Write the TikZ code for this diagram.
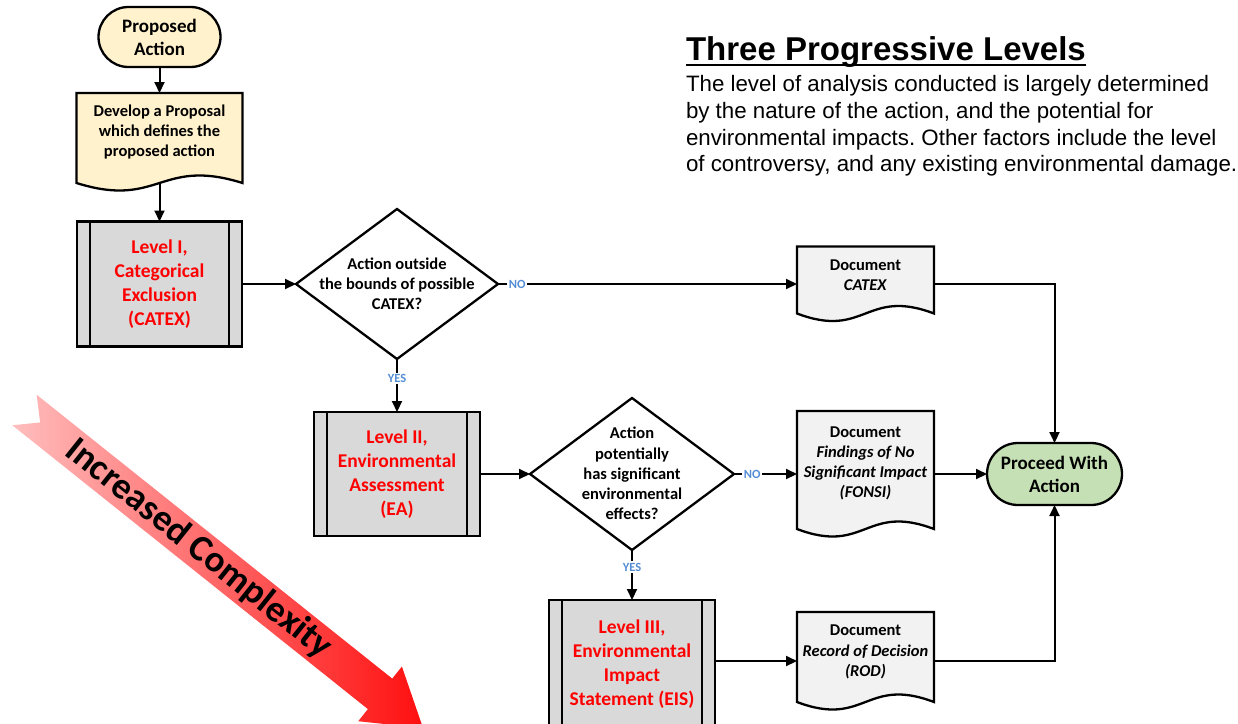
\documentclass[tikz,border=0pt]{standalone}
\usepackage{fontspec}
\setmainfont{Carlito}
\newfontfamily\arialf{Liberation Sans}
\usetikzlibrary{shapes.geometric,shapes.misc,arrows.meta,calc}
\definecolor{yel}{RGB}{255,242,204}
\definecolor{grayf}{RGB}{217,217,217}
\definecolor{docf}{RGB}{242,242,242}
\definecolor{grn}{RGB}{197,224,180}
\definecolor{lblue}{RGB}{84,141,212}
\definecolor{pinkl}{RGB}{255,190,190}
\definecolor{redd}{RGB}{255,15,15}
\newcommand\docdraw[2]{%
  \draw[shapeline, fill=#2] (#1.north west) -- (#1.north east) -- ($(#1.south east)+(0,-8)$)
    .. controls ($(#1.south)+(0,-34)$) and ($(#1.south)+(0,18)$) .. ($(#1.south west)+(0,-8)$) -- cycle;}
\newcommand\procdraw[1]{%
  \draw[shapeline] ([xshift=13pt]#1.north west) -- ([xshift=13pt]#1.south west);
  \draw[shapeline] ([xshift=-13pt]#1.north east) -- ([xshift=-13pt]#1.south east);}
\newcommand\ulinetext[1]{{\setbox0\hbox{#1}\rlap{\rule[-6.3pt]{\wd0}{2.6pt}}\box0}}
\frenchspacing
\begin{document}
\begin{tikzpicture}[x=1pt,y=-1pt,
  every node/.style={inner sep=0pt, outer sep=0pt},
  shapeline/.style={line width=2.3pt},
  term/.style={rounded rectangle, draw, shapeline, align=center, font=\bfseries\fontsize{19}{23}\selectfont},
  proc/.style={rectangle, draw, shapeline, fill=grayf, text=red, align=center, font=\bfseries\fontsize{19.5}{23.8}\selectfont, minimum width=165pt, minimum height=125pt},
  dec/.style={diamond, draw, shapeline, fill=white},
  dectext/.style={align=center, font=\bfseries\fontsize{16.5}{20.2}\selectfont},
  docbox/.style={rectangle},
  doctext/.style={align=center, font=\bfseries\fontsize{16.5}{20.2}\selectfont},
  conn/.style={line width=2pt, -{Triangle[length=11pt,width=10pt]}},
  lbl/.style={fill=white, text=lblue, font=\bfseries\fontsize{12.5}{14}\selectfont, inner sep=1.5pt},
  body/.style={anchor=base west, font=\arialf\fontsize{22.3}{26.7}\selectfont},
]
\useasboundingbox (0,0) rectangle (1238,723);
\clip (0,0) rectangle (1238,723);
\fill[white] (0,0) rectangle (1238,723);

% big arrow
\begin{scope}[shift={(24.5,410)}, rotate=-38.6]
  \shade[left color=pinkl, right color=redd] (0,-19.5) -- (455,-19.5) -- (455,-35) -- (510,0)
    -- (455,35) -- (455,19.5) -- (0,19.5) -- (20,0) -- cycle;
\end{scope}
\node[rotate=-38.6, font=\bfseries\fontsize{37}{40}\selectfont] (cx) at (198.7,548.9) {Increased Complexity};

% title and text
\node[anchor=base west, font=\arialf\bfseries\fontsize{33}{38}\selectfont] (title) at (686,60)
  {\ulinetext{Three Progressive Levels}};
\node[body] (t1) at (686,91.7) {The level of analysis conducted is largely determined};
\node[body] (t2) at (686,118.4) {by the nature of the action, and the potential for};
\node[body] (t3) at (686,145.1) {environmental impacts. Other factors include the level};
\node[body] (t4) at (686,171.8) {of controversy, and any existing environmental damage.};

% nodes
\node[term, fill=yel, minimum width=122pt, minimum height=60pt] (pa) at (159.5,37) {Proposed\\Action};
\node[docbox, minimum width=166pt, minimum height=98pt] (dev) at (159.5,142) {};
\docdraw{dev}{yel}
\node[doctext] (devt) at (159.5,132) {Develop a Proposal\\which defines the\\proposed action};

\node[proc] (l1) at (159.5,284) {Level I,\\Categorical\\Exclusion\\(CATEX)};
\procdraw{l1}
\node[dec, minimum width=202pt, minimum height=150pt] (d1) at (397,284) {};
\node[dectext] (d1t) at (397,284) {Action outside\\the bounds of possible\\CATEX?};

\node[docbox, minimum width=137pt, minimum height=75pt] (catex) at (865.5,284) {};
\docdraw{catex}{docf}
\node[doctext] (catext) at (865.5,275) {Document\\\textit{CATEX}};

\node[term, fill=grn, minimum width=135pt, minimum height=62pt] (go) at (1054.5,474) {Proceed With\\Action};

\node[proc, minimum width=166pt, minimum height=124pt] (l2) at (397,474) {Level II,\\Environmental\\Assessment\\(EA)};
\procdraw{l2}
\node[dec, minimum width=204pt, minimum height=152pt] (d2) at (632,474) {};
\node[dectext] (d2t) at (632,473.5) {Action\\potentially\\has significant\\environmental\\effects?};

\node[docbox, minimum width=137pt, minimum height=126pt] (fonsi) at (865.5,474) {};
\docdraw{fonsi}{docf}
\node[doctext] (fonsit) at (865.5,463.5) {Document\\\textit{Findings of No}\\\textit{Significant Impact}\\\textit{(FONSI)}};

\node[proc, minimum width=166pt, minimum height=128pt] (l3) at (632,664) {Level III,\\Environmental\\Impact\\Statement (EIS)};
\procdraw{l3}
\node[docbox, minimum width=137pt, minimum height=98pt] (rod) at (865.5,661) {};
\docdraw{rod}{docf}
\node[doctext] (rodt) at (865.5,652) {Document\\\textit{Record of Decision}\\\textit{(ROD)}};

% connectors
\draw[conn] (pa.south) -- (dev.north);
\draw[conn] ($(dev.south)+(0,-8)$) -- (l1.north);
\draw[conn] (l1.east) -- (d1.west);
\draw[conn] (d1.east) -- node[lbl, pos=0.064] (no1) {NO} (catex.west);
\draw[conn] (catex.east) -| (go.north);
\draw[conn] (d1.south) -- node[lbl, pos=0.37] (yes1) {YES} (l2.north);
\draw[conn] (l2.east) -- (d2.west);
\draw[conn] (d2.east) -- node[lbl, pos=0.29] (no2) {NO} (fonsi.west);
\draw[conn] (fonsi.east) -- (go.west);
\draw[conn] (d2.south) -- node[lbl, pos=0.34] (yes2) {YES} (l3.north);
\draw[conn] (l3.east |- rod.west) -- (rod.west);
\draw[conn] (rod.east) -| (go.south);
\end{tikzpicture}
\end{document}
